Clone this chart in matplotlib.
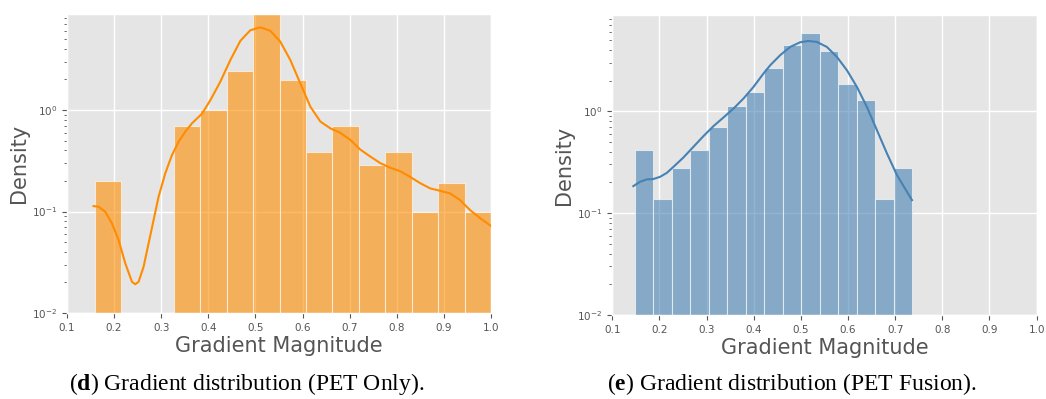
import numpy as np
import matplotlib
matplotlib.use("Agg")
import matplotlib.pyplot as plt

plt.style.use("ggplot")
plt.rcParams["mathtext.fontset"] = "custom"
plt.rcParams["mathtext.rm"] = "Liberation Serif"
plt.rcParams["mathtext.bf"] = "Liberation Serif:bold"

# ---------------- data ----------------
x_ticks = [0.1, 0.2, 0.3, 0.4, 0.5, 0.6, 0.7, 0.8, 0.9, 1.0]

# PET Only histogram (density per bin)
pet_only_edges = np.linspace(0.159, 1.0, 16)
pet_only_density = [0.2, 0.0, 0.0, 0.69, 0.99, 2.42, 9.3, 1.97, 0.39, 0.69,
                    0.29, 0.39, 0.098, 0.19, 0.098]
pet_only_kde_x = [0.1565, 0.167, 0.1813, 0.1955, 0.2096, 0.2238, 0.238, 0.245,
                  0.252, 0.2627, 0.2733, 0.2839, 0.2945, 0.3087, 0.3229, 0.337,
                  0.3512, 0.3654, 0.3866, 0.4043, 0.4255, 0.4467, 0.468, 0.489,
                  0.5104, 0.5316, 0.5529, 0.5741, 0.5953, 0.6166, 0.6378, 0.659,
                  0.679, 0.701, 0.722, 0.743, 0.765, 0.786, 0.807, 0.828,
                  0.850, 0.871, 0.892, 0.913, 0.934, 0.956, 0.977, 1.0]
pet_only_kde_y = [0.113, 0.1116, 0.0995, 0.0765, 0.0524, 0.0309, 0.0203, 0.0192,
                  0.0203, 0.0286, 0.0486, 0.0824, 0.14, 0.238, 0.36, 0.488,
                  0.612, 0.74, 0.92, 1.25, 1.9, 3.1, 4.8, 6.1,
                  6.53, 6.04, 4.71, 3.11, 1.83, 1.08, 0.77, 0.66,
                  0.60, 0.51, 0.41, 0.35, 0.30, 0.27, 0.25, 0.22,
                  0.19, 0.169, 0.16, 0.151, 0.13, 0.103, 0.086, 0.072]

# PET Fusion histogram (density per bin)
pet_fusion_edges = np.linspace(0.148, 0.736, 16)
pet_fusion_density = [0.42, 0.138, 0.28, 0.42, 0.70, 1.12, 1.55, 2.66, 4.44,
                      5.91, 3.9, 1.83, 1.28, 0.139, 0.28]
pet_fusion_kde_x = [0.1446, 0.1588, 0.173, 0.187, 0.2013, 0.2155, 0.2295, 0.2507,
                    0.272, 0.2932, 0.3144, 0.3357, 0.3569, 0.3781, 0.3994, 0.4206,
                    0.4348, 0.4559, 0.4772, 0.4985, 0.5161, 0.534, 0.5552, 0.5764,
                    0.5977, 0.6189, 0.6401, 0.6613, 0.6826, 0.7038, 0.725, 0.7357]
pet_fusion_kde_y = [0.184, 0.203, 0.214, 0.216, 0.227, 0.248, 0.284, 0.351,
                    0.447, 0.569, 0.713, 0.867, 1.06, 1.33, 1.73, 2.34,
                    2.82, 3.54, 4.27, 4.75, 4.89, 4.78, 4.27, 3.41,
                    2.52, 1.73, 1.10, 0.651, 0.385, 0.236, 0.162, 0.134]

captions = [("d", " Gradient distribution (PET Only)."),
            ("e", " Gradient distribution (PET Fusion).")]

# ---------------- figure ----------------
fig = plt.figure(figsize=(10.46, 3.99), dpi=100)
ax1 = fig.add_axes([0.064, 0.2155, 0.4054, 0.749])
ax2 = fig.add_axes([0.5854, 0.2105, 0.4056, 0.752])

panels = [
    (ax1, pet_only_edges, pet_only_density, pet_only_kde_x, pet_only_kde_y, "#FF8C00"),
    (ax2, pet_fusion_edges, pet_fusion_density, pet_fusion_kde_x, pet_fusion_kde_y, "#4682B4"),
]

for ax, edges, dens, kx, ky, col in panels:
    edges = np.asarray(edges)
    widths = np.diff(edges)
    ax.bar(edges[:-1], dens, width=widths, align="edge", color=col, alpha=0.6,
           edgecolor=(1, 1, 1, 0.6), linewidth=0.8, zorder=2)
    ax.plot(kx, ky, color=col, lw=1.5, zorder=3, solid_joinstyle="round")
    ax.set_yscale("log")
    ax.set_xlim(0.1, 1.0)
    ax.set_ylim(0.01, 8.8)
    ax.set_xticks(x_ticks)
    ax.set_xticklabels([f"{t:.1f}" for t in x_ticks])
    ax.tick_params(axis="both", labelsize=7.5, colors="#555555", labelcolor="#555555")
    ax.set_xlabel("Gradient Magnitude", fontsize=15, color="#555555", labelpad=2)
    ax.set_ylabel("Density", fontsize=15, color="#555555", labelpad=2)
    ax.grid(True, which="major", color="white", lw=1.0)
    ax.set_axisbelow(True)

for (letter, rest), cx in zip(captions, [0.2355, 0.757]):
    fig.text(cx, 0.022, r"(" + r"$\mathbf{" + letter + r"}$" + ")" + rest,
             ha="center", va="baseline", fontsize=17,
             family=["Liberation Serif", "DejaVu Serif"], color="black")

fig.savefig("out.png", dpi=100)
